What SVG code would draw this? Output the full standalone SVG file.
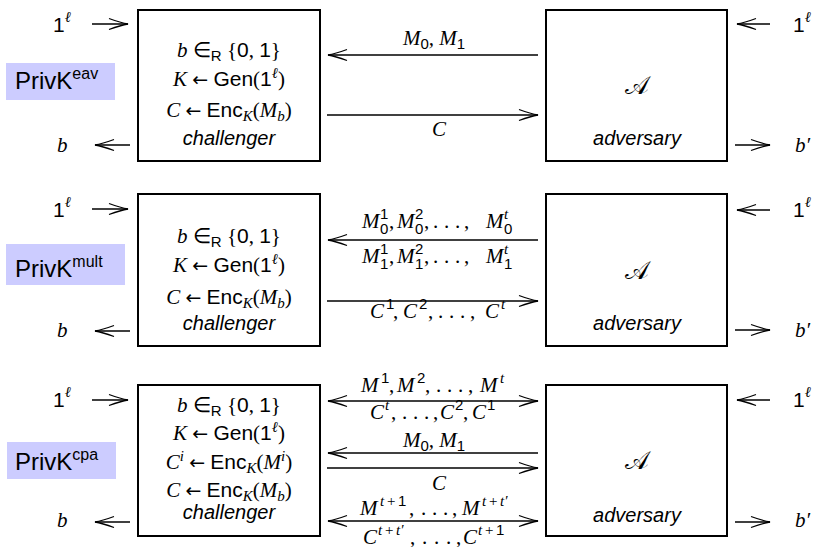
<svg xmlns="http://www.w3.org/2000/svg" width="815" height="547" viewBox="0 0 815 547">
<style>
.t{font-family:"Liberation Serif",serif;font-size:21px;fill:#000}
.i{font-style:italic}
.sf{font-family:"Liberation Sans",sans-serif;font-style:normal}
.ar{font-family:"DejaVu Sans",sans-serif;font-style:normal;font-size:19px}
.s{font-size:15px}
.lab{font-family:"Liberation Sans",sans-serif;font-style:italic;font-size:20px;fill:#000}
.box{fill:#fff;stroke:#000;stroke-width:2}
.pk{fill:#ccccff}
.pkt{font-family:"Liberation Sans",sans-serif;font-size:24px;fill:#000}
.pks{font-size:16px}
.ln{stroke:#000;stroke-width:1.3;fill:none}
.e{marker-end:url(#ah)}
.b2{marker-start:url(#ah);marker-end:url(#ah)}
.cal{font-family:"DejaVu Sans","Noto Sans",serif;font-size:25px;fill:#000}
</style>
<defs>
<marker id="ah" viewBox="-21 -7 23 14" refX="0" refY="0" markerWidth="23" markerHeight="14" markerUnits="userSpaceOnUse" orient="auto-start-reverse">
<path d="M-19,-5.5 Q-7,-1.2 0,0 Q-7,1.2 -19,5.5" fill="none" stroke="#000" stroke-width="1.3"/>
</marker>
</defs>

<!-- Section 1: PrivK eav -->
<g id="privk-eav">
<rect class="pk" x="6" y="63" width="109" height="37"/>
<text class="pkt" x="15" y="89">PrivK<tspan class="pks" dy="-10">eav</tspan></text>
</g>
<g id="challenger-1">
<rect class="box" x="138" y="10" width="182" height="151"/>
<text class="t" x="229" y="57" text-anchor="middle"><tspan class="i">b</tspan> ∈<tspan class="sf s" dy="4">R</tspan><tspan dy="-4"> {</tspan><tspan class="sf">0</tspan>, <tspan class="sf">1</tspan>}</text>
<text class="t" x="229" y="86" text-anchor="middle"><tspan class="i">K</tspan> <tspan class="ar">←</tspan> <tspan class="sf">Gen</tspan>(<tspan class="sf">1</tspan><tspan class="i s" dy="-8">ℓ</tspan><tspan dy="8">)</tspan></text>
<text class="t" x="229" y="117" text-anchor="middle"><tspan class="i">C</tspan> <tspan class="ar">←</tspan> <tspan class="sf">Enc</tspan><tspan class="i s" dy="4">K</tspan><tspan dy="-4">(</tspan><tspan class="i">M</tspan><tspan class="i s" dy="4">b</tspan><tspan dy="-4">)</tspan></text>
<text class="lab" x="229" y="145" text-anchor="middle">challenger</text>
</g>
<g id="adversary-1">
<rect class="box" x="546" y="10" width="181" height="151"/>
<text class="cal" x="637" y="94" text-anchor="middle">𝒜</text>
<text class="lab" x="637" y="145" text-anchor="middle">adversary</text>
</g>

<!-- Section 2: PrivK mult -->
<g id="privk-mult">
<rect class="pk" x="6" y="244" width="119" height="41"/>
<text class="pkt" x="15" y="277">PrivK<tspan class="pks" dy="-10">mult</tspan></text>
</g>
<g id="challenger-2">
<rect class="box" x="138" y="194" width="182" height="152"/>
<text class="t" x="229" y="243" text-anchor="middle"><tspan class="i">b</tspan> ∈<tspan class="sf s" dy="4">R</tspan><tspan dy="-4"> {</tspan><tspan class="sf">0</tspan>, <tspan class="sf">1</tspan>}</text>
<text class="t" x="229" y="272" text-anchor="middle"><tspan class="i">K</tspan> <tspan class="ar">←</tspan> <tspan class="sf">Gen</tspan>(<tspan class="sf">1</tspan><tspan class="i s" dy="-8">ℓ</tspan><tspan dy="8">)</tspan></text>
<text class="t" x="229" y="304" text-anchor="middle"><tspan class="i">C</tspan> <tspan class="ar">←</tspan> <tspan class="sf">Enc</tspan><tspan class="i s" dy="4">K</tspan><tspan dy="-4">(</tspan><tspan class="i">M</tspan><tspan class="i s" dy="4">b</tspan><tspan dy="-4">)</tspan></text>
<text class="lab" x="229" y="330" text-anchor="middle">challenger</text>
</g>
<g id="adversary-2">
<rect class="box" x="546" y="194" width="181" height="152"/>
<text class="cal" x="637" y="279" text-anchor="middle">𝒜</text>
<text class="lab" x="637" y="330" text-anchor="middle">adversary</text>
</g>

<!-- Section 3: PrivK cpa -->
<g id="privk-cpa">
<rect class="pk" x="7" y="442" width="109" height="37"/>
<text class="pkt" x="15" y="470">PrivK<tspan class="pks" dy="-10">cpa</tspan></text>
</g>
<g id="challenger-3">
<rect class="box" x="138" y="385" width="182" height="151"/>
<text class="t" x="229" y="412" text-anchor="middle"><tspan class="i">b</tspan> ∈<tspan class="sf s" dy="4">R</tspan><tspan dy="-4"> {</tspan><tspan class="sf">0</tspan>, <tspan class="sf">1</tspan>}</text>
<text class="t" x="229" y="440" text-anchor="middle"><tspan class="i">K</tspan> <tspan class="ar">←</tspan> <tspan class="sf">Gen</tspan>(<tspan class="sf">1</tspan><tspan class="i s" dy="-8">ℓ</tspan><tspan dy="8">)</tspan></text>
<text class="t" x="229" y="469" text-anchor="middle"><tspan class="i">C</tspan><tspan class="i s" dy="-8">i</tspan><tspan dy="8"> </tspan><tspan class="ar">←</tspan> <tspan class="sf">Enc</tspan><tspan class="i s" dy="4">K</tspan><tspan dy="-4">(</tspan><tspan class="i">M</tspan><tspan class="i s" dy="-8">i</tspan><tspan dy="8">)</tspan></text>
<text class="t" x="229" y="497" text-anchor="middle"><tspan class="i">C</tspan> <tspan class="ar">←</tspan> <tspan class="sf">Enc</tspan><tspan class="i s" dy="4">K</tspan><tspan dy="-4">(</tspan><tspan class="i">M</tspan><tspan class="i s" dy="4">b</tspan><tspan dy="-4">)</tspan></text>
<text class="lab" x="229" y="519" text-anchor="middle">challenger</text>
</g>
<g id="adversary-3">
<rect class="box" x="546" y="385" width="181" height="151"/>
<text class="cal" x="637" y="469" text-anchor="middle">𝒜</text>
<text class="lab" x="637" y="522" text-anchor="middle">adversary</text>
</g>

<!-- Connectors -->
<g id="connectors">
<path class="ln e" d="M92,24 H128"/>
<path class="ln e" d="M130,145 H95"/>
<path class="ln e" d="M770,24 H737"/>
<path class="ln e" d="M735,145 H770"/>
<path class="ln e" d="M538,55 H328"/>
<path class="ln e" d="M327,115 H538"/>

<path class="ln e" d="M92,209 H128"/>
<path class="ln e" d="M130,331 H95"/>
<path class="ln e" d="M770,210 H737"/>
<path class="ln e" d="M735,330 H770"/>
<path class="ln e" d="M538,240 H328"/>
<path class="ln e" d="M327,301 H538"/>

<path class="ln e" d="M92,400 H128"/>
<path class="ln e" d="M130,522 H95"/>
<path class="ln e" d="M770,400 H737"/>
<path class="ln e" d="M735,522 H770"/>
<path class="ln b2" d="M328,401 H538"/>
<path class="ln e" d="M538,453 H328"/>
<path class="ln e" d="M327,468 H538"/>
<path class="ln b2" d="M328,521 H538"/>
</g>

<!-- Connector and port labels -->
<g id="labels">
<text class="t" x="53" y="32"><tspan class="sf">1</tspan><tspan class="i s" dy="-10">ℓ</tspan></text>
<text class="t i" x="57" y="152">b</text>
<text class="t" x="793" y="32"><tspan class="sf">1</tspan><tspan class="i s" dy="-10">ℓ</tspan></text>
<text class="t i" x="795" y="152">b′</text>
<text class="t i" x="403" y="45">M<tspan class="sf s" dy="4">0</tspan><tspan dy="-4">, M</tspan><tspan class="sf s" dy="4">1</tspan></text>
<text class="t i" x="432" y="136">C</text>

<text class="t" x="53" y="217"><tspan class="sf">1</tspan><tspan class="i s" dy="-10">ℓ</tspan></text>
<text class="t i" x="57" y="337">b</text>
<text class="t" x="793" y="217"><tspan class="sf">1</tspan><tspan class="i s" dy="-10">ℓ</tspan></text>
<text class="t i" x="795" y="337">b′</text>
<text class="t">
<tspan class="i" x="362" y="228">M</tspan><tspan class="sf s" x="380" y="234">0</tspan><tspan class="sf s" x="380" y="219">1</tspan><tspan x="389" y="228">,</tspan>
<tspan class="i" x="397" y="228">M</tspan><tspan class="sf s" x="415" y="234">0</tspan><tspan class="sf s" x="415" y="219">2</tspan><tspan x="424" y="228">,</tspan>
<tspan x="433 444 455" y="228">...</tspan><tspan x="464" y="228">,</tspan>
<tspan class="i" x="486" y="228">M</tspan><tspan class="sf s" x="504" y="234">0</tspan><tspan class="i s" x="504" y="219">t</tspan>
</text>
<text class="t">
<tspan class="i" x="362" y="263">M</tspan><tspan class="sf s" x="380" y="269">1</tspan><tspan class="sf s" x="380" y="254">1</tspan><tspan x="389" y="263">,</tspan>
<tspan class="i" x="397" y="263">M</tspan><tspan class="sf s" x="415" y="269">1</tspan><tspan class="sf s" x="415" y="254">2</tspan><tspan x="424" y="263">,</tspan>
<tspan x="433 444 455" y="263">...</tspan><tspan x="464" y="263">,</tspan>
<tspan class="i" x="486" y="263">M</tspan><tspan class="sf s" x="504" y="269">1</tspan><tspan class="i s" x="504" y="254">t</tspan>
</text>
<text class="t">
<tspan class="i" x="370" y="318">C</tspan><tspan class="sf s" x="386" y="309">1</tspan><tspan x="393" y="318">,</tspan>
<tspan class="i" x="403" y="318">C</tspan><tspan class="sf s" x="419" y="309">2</tspan><tspan x="428" y="318">,</tspan>
<tspan x="438 449 460" y="318">...</tspan><tspan x="470" y="318">,</tspan>
<tspan class="i" x="485" y="318">C</tspan><tspan class="i s" x="501" y="309">t</tspan>
</text>

<text class="t" x="53" y="407"><tspan class="sf">1</tspan><tspan class="i s" dy="-10">ℓ</tspan></text>
<text class="t i" x="57" y="527">b</text>
<text class="t" x="793" y="407"><tspan class="sf">1</tspan><tspan class="i s" dy="-10">ℓ</tspan></text>
<text class="t i" x="795" y="527">b′</text>
<text class="t">
<tspan class="i" x="361" y="392">M</tspan><tspan class="sf s" x="381" y="383">1</tspan><tspan x="389" y="392">,</tspan>
<tspan class="i" x="397" y="392">M</tspan><tspan class="sf s" x="417" y="383">2</tspan><tspan x="425" y="392">,</tspan>
<tspan x="436 447 458" y="392">...</tspan><tspan x="468" y="392">,</tspan>
<tspan class="i" x="480" y="392">M</tspan><tspan class="i s" x="500" y="383">t</tspan>
</text>
<text class="t">
<tspan class="i" x="370" y="419">C</tspan><tspan class="i s" x="385" y="410">t</tspan><tspan x="391" y="419">,</tspan>
<tspan x="402 413 424" y="419">...</tspan><tspan x="433" y="419">,</tspan>
<tspan class="i" x="440" y="419">C</tspan><tspan class="sf s" x="455" y="410">2</tspan><tspan x="463" y="419">,</tspan>
<tspan class="i" x="472" y="419">C</tspan><tspan class="sf s" x="487" y="410">1</tspan>
</text>
<text class="t i" x="403" y="447">M<tspan class="sf s" dy="4">0</tspan><tspan dy="-4">, M</tspan><tspan class="sf s" dy="4">1</tspan></text>
<text class="t i" x="432" y="490">C</text>
<text class="t">
<tspan class="i" x="360" y="515">M</tspan><tspan class="i s" x="380" y="506">t</tspan><tspan class="s" x="387" y="506">+</tspan><tspan class="sf s" x="398" y="506">1</tspan><tspan x="409" y="515">,</tspan>
<tspan x="421 432 443" y="515">...</tspan><tspan x="452" y="515">,</tspan>
<tspan class="i" x="462" y="515">M</tspan><tspan class="i s" x="482" y="506">t</tspan><tspan class="s" x="489" y="506">+</tspan><tspan class="i s" x="500" y="506">t′</tspan>
</text>
<text class="t">
<tspan class="i" x="363" y="544">C</tspan><tspan class="i s" x="378" y="535">t</tspan><tspan class="s" x="385" y="535">+</tspan><tspan class="i s" x="396" y="535">t′</tspan><tspan x="410" y="544">,</tspan>
<tspan x="422 434 446" y="544">...</tspan><tspan x="456" y="544">,</tspan>
<tspan class="i" x="463" y="544">C</tspan><tspan class="i s" x="478" y="535">t</tspan><tspan class="s" x="485" y="535">+</tspan><tspan class="sf s" x="496" y="535">1</tspan>
</text>
</g>
</svg>
